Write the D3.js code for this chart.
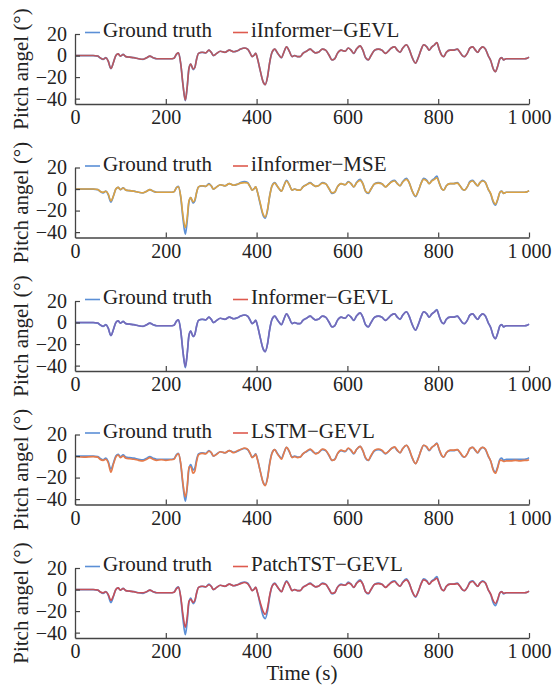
<!DOCTYPE html>
<html>
<head>
<meta charset="utf-8">
<script src="https://cdn.jsdelivr.net/npm/d3@7"></script>
<style>
  body { margin: 0; background: #fff; }
  svg { display: block; }
  text { font-family: "Liberation Serif", "Times New Roman", serif; fill: #222; }
</style>
</head>
<body>
<svg id="chart" width="553" height="685"></svg>
<script>
// sample times (s), shared by every series below
var timeSec = [
  0, 20, 40, 50, 55, 62, 68, 73, 79, 85,
  90, 95, 100, 106, 112, 120, 130, 140, 150, 158,
  165, 172, 180, 190, 200, 210, 218, 224, 228, 233,
  238, 243, 247, 251, 255, 260, 264, 268, 272, 280,
  288, 295, 300, 305, 312, 320, 330, 340, 350, 358,
  365, 373, 380, 386, 390, 395, 398, 402, 408, 414,
  419, 424, 429, 434, 440, 445, 450, 455, 460, 466,
  472, 478, 484, 490, 496, 502, 510, 518, 524, 530,
  536, 545, 552, 560, 566, 572, 578, 586, 595, 602,
  608, 614, 620, 628, 634, 640, 646, 652, 660, 668,
  676, 684, 690, 697, 704, 710, 716, 722, 730, 736,
  742, 750, 756, 762, 768, 775, 780, 786, 792, 797,
  802, 808, 812, 818, 826, 834, 842, 848, 853, 858,
  864, 870, 876, 882, 887, 892, 898, 904, 910, 916,
  921, 926, 931, 936, 940, 944, 950, 960, 970, 980,
  990, 996, 1000
];

// pitch angle (deg)
var groundTruth = [
  0, 0, 0, -0.5, -2, -3.5, -2, -5, -12, -6,
  0, 1.5, -0.5, 1, -1, -1.5, -2, -3, -3.5, -2,
  -0.5, -2, -3, -3, -3, -3, -2.5, 1.5, 2.5, -8,
  -28, -42, -30, -12, -8, -13, -11, -3, 2, 3,
  2.5, 5, 3, 0, 2, 4, 3, 5, 3.5, 4.5,
  6, 7, 6, 2, -1, 0.5, 2, -3, -14, -24,
  -27, -20, -6, 3, 6, 3, 0, -2, 3, 8,
  4, -1, 0, -1, -1, 2, 4, 6, 4, 2.5,
  3, 6, 5, 0, -4, -3, 2, 5, 4, 7,
  5, 2, 6, 9, 5, -2, -4, 0, 5, 6,
  5, 2, 4, 7, 8, 5, 3, 7, 10, 6,
  -1, -7, -2, 5, 10, 8, 5, 8, 10, 12,
  6, 0, -1, 3, 5, 5, 6, 3, 0, -1,
  2, 7, 8, 5, 3, 6, 8, 6, 0, -5,
  -12, -15, -10, -3, -2, -4, -3, -3, -3, -3,
  -3, -2.5, -1.5
];

var predIInformerGEVL = [
  0, 0, 0, -0.5, -2, -3.5, -2, -5, -12, -6,
  0, 1.5, -0.5, 1, -1, -1.5, -2, -3, -3.5, -2,
  -0.5, -2, -3, -3, -3, -3, -2.5, 1.5, 2.5, -8,
  -27.5, -41.5, -29.5, -12, -8, -12.5, -11, -3, 2, 3,
  2.5, 5, 3, 0, 2, 4, 3, 5, 3.5, 4.5,
  6, 7, 6, 2, -1, 0.5, 2, -3, -14, -24,
  -27, -20, -6, 3, 6, 3, 0, -2, 3, 8,
  4, -1, 0, -1, -1, 2, 4, 6, 4, 2.5,
  3, 6, 5, 0, -4, -3, 2, 5, 4, 7,
  5, 2, 6, 9, 5, -2, -4, 0, 5, 6,
  5, 2, 4, 7, 8, 5, 3, 7, 10, 6,
  -1, -7, -2, 5, 10, 8, 5, 8, 10, 12,
  6, 0, -1, 3, 5, 5, 6, 3, 0, -1,
  2, 7, 8, 5, 3, 6, 8, 6, 0, -5,
  -12, -15, -10, -3, -2, -4, -3, -3, -3, -3,
  -3, -2.5, -1.5
];

var predIInformerMSE = [
  0, 0, 0, -0.5, -2, -3, -2, -4.5, -11, -6,
  0, 1.5, -0.5, 1, -1, -1.5, -2, -3, -3.5, -2,
  -0.5, -2, -3, -3, -3, -3, -2.5, 1.5, 2, -7,
  -25, -36, -27, -11, -8, -12, -10, -3, 2, 3,
  2.5, 4.5, 3, 0, 2, 4, 3, 5, 3.5, 4.5,
  5.5, 6, 5.5, 2, -1, 0.5, 2, -3, -13, -23,
  -26, -19, -6, 3, 5.5, 3, 0, -2, 3, 7.5,
  4, -1, 0, -1, -1, 2, 4, 5.5, 4, 2.5,
  3, 5.5, 5, 0, -3.5, -3, 2, 5, 4, 6.5,
  5, 2, 5.5, 8, 5, -2, -3.5, 0, 5, 5.5,
  5, 2, 4, 6.5, 7.5, 5, 3, 6.5, 9, 6,
  -1, -6.5, -2, 5, 9, 7.5, 5, 7.5, 9, 10.5,
  6, 0, -1, 3, 5, 5, 5.5, 3, 0, -1,
  2, 6.5, 7.5, 5, 3, 6, 7.5, 6, 0, -4.5,
  -11, -14, -9.5, -3, -2, -4, -3, -3, -3, -3,
  -3, -2.5, -1.5
];

var predInformerGEVL = [
  0, 0, 0, -0.5, -2, -3.5, -2, -5, -12, -6,
  0, 1.5, -0.5, 1, -1, -1.5, -2, -3, -3.5, -2,
  -0.5, -2, -3, -3, -3, -3, -2.5, 1.5, 2.5, -8,
  -27.5, -41, -29.5, -12, -8, -13, -11, -3, 2, 3,
  2.5, 5, 3, 0, 2, 4, 3, 5, 3.5, 4.5,
  6, 7, 6, 2, -1, 0.5, 2, -3, -14, -24,
  -27, -20, -6, 3, 6, 3, 0, -2, 3, 8,
  4, -1, 0, -1, -1, 2, 4, 6, 4, 2.5,
  3, 6, 5, 0, -4, -3, 2, 5, 4, 7,
  5, 2, 6, 9, 5, -2, -4, 0, 5, 6,
  5, 2, 4, 7, 8, 5, 3, 7, 10, 6,
  -1, -7, -2, 5, 10, 8, 5, 8, 10, 11.5,
  6, 0, -1, 3, 5, 5, 6, 3, 0, -1,
  2, 7, 8, 5, 3, 6, 8, 6, 0, -5,
  -12, -15, -10, -3, -2, -4, -3, -3, -3, -3,
  -3, -2.5, -1.5
];

var predLSTMGEVL = [
  -0.5, -1, -0.5, -1, -3, -4, -3, -6, -15, -7,
  -1, 1, -1.5, 0, -2, -2.5, -3, -4, -4.5, -3,
  -1.5, -3, -4, -3.5, -4, -3.5, -3, 1, 2, -7,
  -26, -38, -29, -10, -10, -16, -14, -5, 1, 2.5,
  2, 4.5, 3.5, 0, 1.5, 4, 3, 5, 3, 5,
  6, 7.5, 6.5, 2.5, -1.5, 0, 1.5, -3.5, -14, -24,
  -27.5, -21, -7, 2.5, 6, 2.5, -0.5, -3, 2.5, 8,
  4.5, -1.5, -0.5, -1.5, -1, 2, 4.5, 6.5, 4.5, 2,
  3, 6.5, 5.5, 0.5, -4, -3.5, 2, 5.5, 4.5, 7.5,
  5.5, 2.5, 6, 9, 5, -1.5, -4, 0.5, 5.5, 6.5,
  5.5, 2.5, 4, 7, 8.5, 5.5, 3, 7, 10, 6.5,
  -0.5, -7, -2.5, 5, 10, 8.5, 5.5, 8, 10, 11.5,
  6.5, 0.5, -1, 3, 5.5, 5.5, 6, 3.5, 0.5, -1,
  2, 7, 8, 5.5, 3, 6.5, 8, 6.5, 0.5, -5,
  -13, -16, -11, -4, -4, -5, -4.5, -4.5, -4, -4.5,
  -4, -4, -3.5
];

var predPatchTSTGEVL = [
  0, 0, 0, -0.5, -2, -3, -2, -4.5, -10, -5.5,
  0, 1.5, -0.5, 1, -1, -1.5, -2, -3, -3, -2,
  -0.5, -2, -3, -3, -3, -3, -2.5, 1, 2, -7,
  -24, -35, -26, -11, -9, -12, -10, -3, 2, 3,
  2.5, 4.5, 3, 0, 2, 4, 3, 5, 3.5, 4.5,
  5.5, 6.5, 5.5, 2, -1, 0.5, 2, -3, -12, -20,
  -23, -17, -5, 3, 5.5, 3, 0, -2, 3, 7.5,
  4, -1, 0, -1, -1, 2, 4, 5.5, 4, 2.5,
  3, 5.5, 5, 0, -3.5, -3, 2, 4.5, 4, 6,
  5, 2, 5.5, 8, 5, -2, -3.5, 0, 5, 5.5,
  5, 2, 4, 6.5, 7.5, 5, 3, 6.5, 9, 6,
  -1, -6.5, -2, 5, 9, 7.5, 5, 7.5, 9, 10.5,
  6, 0, -1, 3, 5, 5, 5.5, 3, 0, -1,
  2, 6.5, 7.5, 5, 3, 6, 7.5, 6, 0, -4.5,
  -10, -13, -9, -3, -2, -3.5, -3, -3, -3, -3,
  -3, -2.5, -1.5
];

var modelLabels = ['iInformer\u2212GEVL', 'iInformer\u2212MSE', 'Informer\u2212GEVL', 'LSTM\u2212GEVL', 'PatchTST\u2212GEVL'];
var modelSeries = [predIInformerGEVL, predIInformerMSE, predInformerGEVL, predLSTMGEVL, predPatchTSTGEVL];
var xTicks = [0, 200, 400, 600, 800, 1000];
var yTicks = [20, 0, -20, -40];

// drawing colours: prediction lines blend over the blue truth in the source
var truthColor = '#5b8fd6',
    legendRed = '#de5a4e',
    predColors = ['#b9575d', '#dba243', '#7669b9', '#e57b4b', '#c64f58'];

var svg = d3.select('#chart'),
    left = 75,
    right = 529,
    plotH = 70,
    step = 133.5,
    x = d3.scaleLinear().domain([0, 1000]).range([left, right]),
    fmtX = function (d) { return d === 1000 ? '1\u2009000' : String(d); },
    fmtY = function (d) { return d < 0 ? '\u2212' + (-d) : String(d); };

function toPoints(vals) {
  return vals.map(function (v, i) { return [timeSec[i], v]; });
}

modelLabels.forEach(function (label, i) {
  var bottom = 104 + i * step,
      y = d3.scaleLinear().domain([-45, 20]).range([bottom, bottom - plotH]),
      top = y(20),
      g = svg.append('g'),
      line = d3.line()
        .x(function (d) { return x(d[0]); })
        .y(function (d) { return y(d[1]); })
        .curve(d3.curveMonotoneX);

  g.append('path')
    .attr('d', line(toPoints(groundTruth)))
    .attr('fill', 'none')
    .attr('stroke', truthColor)
    .attr('stroke-width', 1.7);

  g.append('path')
    .attr('d', line(toPoints(modelSeries[i])))
    .attr('fill', 'none')
    .attr('stroke', predColors[i])
    .attr('stroke-width', 1.6);

  var ax = g.append('g')
    .attr('transform', 'translate(0,' + bottom + ')')
    .call(d3.axisBottom(x).tickValues(xTicks).tickFormat(fmtX)
      .tickSizeInner(-5).tickSizeOuter(0).tickPadding(6));
  var ay = g.append('g')
    .attr('transform', 'translate(' + left + ',0)')
    .call(d3.axisLeft(y).tickValues(yTicks).tickFormat(fmtY)
      .tickSizeInner(-5).tickSizeOuter(0).tickPadding(8));

  [ax, ay].forEach(function (a) {
    a.select('.domain').attr('stroke', '#444').attr('stroke-width', 1.3);
    a.selectAll('.tick line').attr('stroke', '#444').attr('stroke-width', 1.2);
    a.selectAll('.tick text').attr('fill', '#222')
      .style('font-family', '"Liberation Serif", serif').style('font-size', '20px');
  });

  // legend
  g.append('line').attr('x1', 85).attr('x2', 100).attr('y1', top - 1.5).attr('y2', top - 1.5)
    .attr('stroke', truthColor).attr('stroke-width', 1.6);
  g.append('text').attr('x', 103).attr('y', top + 3).style('font-size', '21px').text('Ground truth');
  g.append('line').attr('x1', 233).attr('x2', 248).attr('y1', top - 1.5).attr('y2', top - 1.5)
    .attr('stroke', legendRed).attr('stroke-width', 1.6);
  g.append('text').attr('x', 251).attr('y', top + 3).style('font-size', '21px').text(label);

  // y axis title
  g.append('text')
    .attr('transform', 'translate(28,' + (bottom - plotH / 2) + ') rotate(-90)')
    .attr('text-anchor', 'middle')
    .style('font-size', '21px')
    .text('Pitch angel (\u00b0)');
});

svg.append('text')
  .attr('x', (left + right) / 2)
  .attr('y', 680)
  .attr('text-anchor', 'middle')
  .style('font-size', '21px')
  .text('Time (s)');
</script>
</body>
</html>
